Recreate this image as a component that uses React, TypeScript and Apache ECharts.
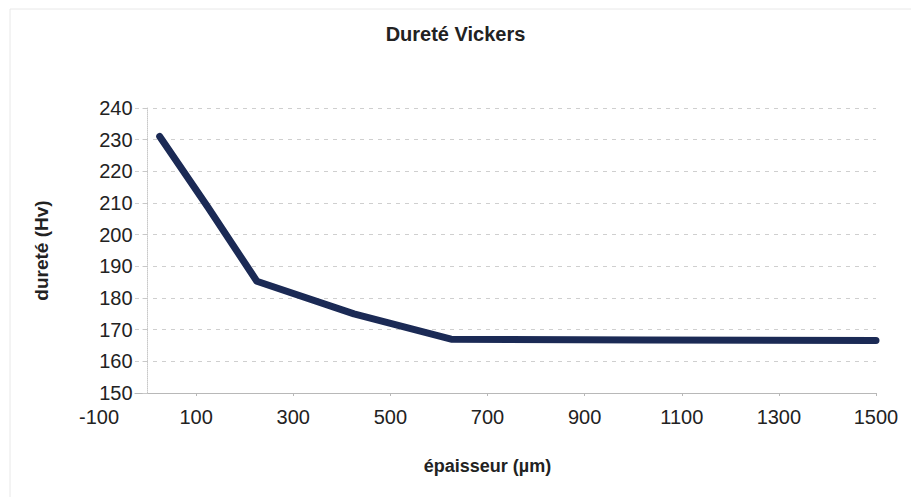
import React, { useEffect, useRef } from "react";
import * as echarts from "echarts";

const thickness = [25, 125, 225, 425, 625, 1025, 1500];
const hardness = [231, 208.5, 185.3, 175, 167, 166.7, 166.6];
const xTickLabels = [-100, 100, 300, 500, 700, 900, 1100, 1300, 1500];
const yTicks = [150, 160, 170, 180, 190, 200, 210, 220, 230, 240];

const X_MIN = -100;
const X_MAX = 1500;
const GRID_LEFT = 99;
const GRID_RIGHT = 35;
const WIDTH = 911;
const HEIGHT = 497;

export default function App() {
  const ref = useRef<HTMLDivElement>(null);
  useEffect(() => {
    if (!ref.current) return;
    const chart = echarts.init(ref.current, undefined, { renderer: "svg" });
    const font = "'Liberation Sans', Arial, sans-serif";
    const plotW = WIDTH - GRID_LEFT - GRID_RIGHT;
    // the value axis crosses the horizontal axis at x = 0 (Excel style)
    const zeroOffset = ((0 - X_MIN) / (X_MAX - X_MIN)) * plotW;
    chart.setOption({
      animation: false,
      backgroundColor: "#fff",
      title: {
        text: "Dureté Vickers",
        left: "center",
        top: 19,
        textStyle: { fontFamily: font, fontSize: 20, fontWeight: "bold", color: "#222" },
      },
      graphic: [
        {
          type: "rect",
          shape: { x: 10, y: 9, width: 1000, height: 600 },
          style: { fill: "none", stroke: "#e8e8e8", lineWidth: 1 },
          silent: true,
        },
      ],
      grid: { left: GRID_LEFT, right: GRID_RIGHT, top: 108, bottom: 104, containLabel: false },
      xAxis: {
        type: "value",
        min: X_MIN,
        max: X_MAX,
        name: "épaisseur (µm)",
        nameLocation: "middle",
        nameGap: 64,
        nameTextStyle: { fontFamily: font, fontSize: 18, fontWeight: "bold", color: "#222" },
        axisLine: { show: true, onZero: false, lineStyle: { color: "#b8b8b8", width: 1 } },
        axisTick: { show: true, length: 3, inside: false, customValues: xTickLabels, lineStyle: { color: "#b8b8b8" } },
        axisLabel: {
          customValues: xTickLabels,
          margin: 14,
          fontFamily: font,
          fontSize: 20,
          color: "#222",
          formatter: (v: number) => String(v),
        },
        splitLine: { show: false },
      },
      yAxis: {
        type: "value",
        min: yTicks[0],
        max: yTicks[yTicks.length - 1],
        interval: 10,
        offset: -zeroOffset,
        name: "dureté (Hv)",
        nameLocation: "middle",
        nameGap: 97,
        nameTextStyle: { fontFamily: font, fontSize: 19, fontWeight: "bold", color: "#222" },
        axisLine: { show: true, onZero: false, lineStyle: { color: "#c8c8c8", width: 1, type: "dotted" } },
        axisTick: { show: true, length: 5, lineStyle: { color: "#c8c8c8" } },
        axisLabel: {
          margin: 13,
          fontFamily: font,
          fontSize: 20,
          color: "#222",
          backgroundColor: "#fff",
          padding: [1, 2, 1, 14],
        },
        splitLine: { show: true, lineStyle: { color: "#cfcfcf", type: [4, 5], width: 1 } },
      },
      series: [
        {
          type: "line",
          data: thickness.map((x, i) => [x, hardness[i]]),
          showSymbol: false,
          symbol: "none",
          lineStyle: { color: "#1b2a55", width: 7, cap: "round", join: "round" },
          z: 5,
        },
      ],
    });
    return () => chart.dispose();
  }, []);
  return (
    <div
      ref={ref}
      style={{ position: "fixed", left: 0, top: 0, width: WIDTH, height: HEIGHT }}
    />
  );
}
